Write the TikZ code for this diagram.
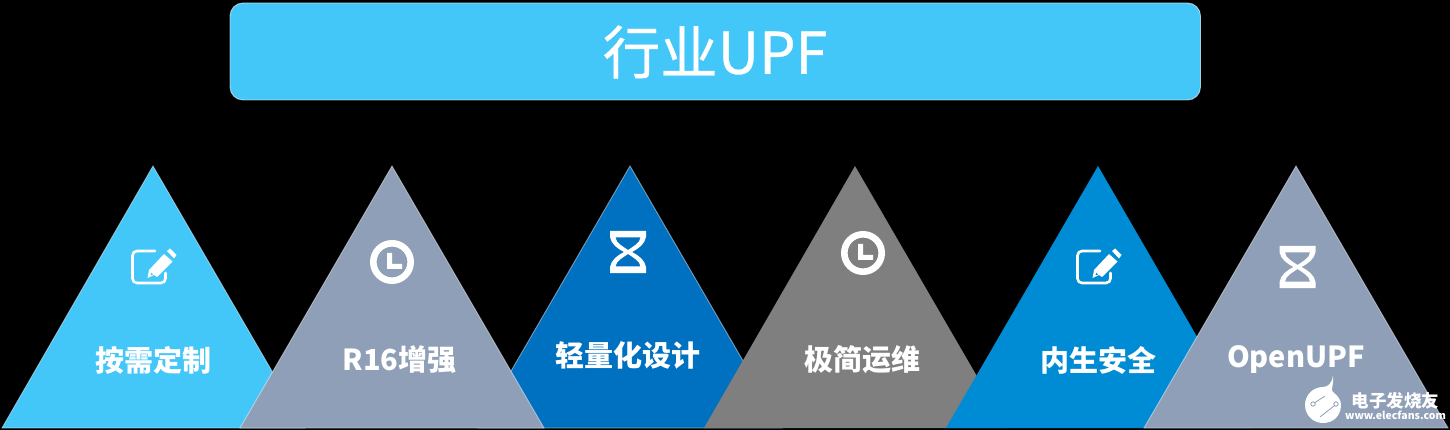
\documentclass[tikz,border=0pt]{standalone}
\usepackage{fontspec}
\usepackage{tikz}
\setmainfont{Noto Sans CJK SC}
\definecolor{skyblue}{HTML}{43C6F8}
\definecolor{slateblue}{HTML}{8F9FB7}
\definecolor{deepblue}{HTML}{0070C0}
\definecolor{midblue}{HTML}{008BD5}
\definecolor{midgrey}{HTML}{7F7F7F}
\tikzset{
    tri/.style={draw=white,draw opacity=.45,line width=.9pt,fill=#1},
    flat/.style={draw=none,fill=#1},
    tag/.style={text=white,font=\fontsize{29}{29}\selectfont\bfseries,inner sep=0pt},
    pics/noteicon/.style={code={
        \draw[white,line width=2.6pt,line cap=round,rounded corners=4.5pt]
            (6,-16) -- (-16.5,-16) -- (-16.5,16) -- (16.5,16) -- (16.5,6);
        \fill[white,even odd rule] (-1.5,11) -- (0,3) -- (15,-13) -- (23.5,-5.5) -- (8,10) -- (5,8) -- cycle
            (1.5,8.5) -- (2,5.5) -- (4.5,7.5) -- cycle;
        \fill[white] (18,-16) -- (21,-18.5) -- (27.5,-12) -- (25,-8.5) -- cycle;
    }},
    pics/clockicon/.style={code={
        \draw[white,line width=6.6pt] (0,0) circle[radius=18.7];
        \fill[white] (-5,-9) rectangle (0,7) (-5,2) rectangle (10,7);
    }},
    pics/glassicon/.style={code={
        \fill[white,even odd rule] (-18,-21) -- (18,-21) -- (18,-15) .. controls (17,-8) and (10,-3) .. (4,0)
            .. controls (10,3) and (17,8) .. (18,15) -- (18,21) -- (-18,21) -- (-18,15)
            .. controls (-17,8) and (-10,3) .. (-4,0) .. controls (-10,-3) and (-17,-8) .. (-18,-15) -- cycle
            (-12.5,-14.5) .. controls (-12,-9) and (-5,-5.5) .. (0,-2) .. controls (5,-5.5) and (12,-9) .. (12.5,-14.5) -- cycle
            (-12.5,14.5) .. controls (-12,9) and (-5,5.5) .. (0,2) .. controls (5,5.5) and (12,9) .. (12.5,14.5) -- cycle;
    }},
}
\begin{document}
\begin{tikzpicture}[x=1pt,y=-1pt]
    \useasboundingbox (0,0) rectangle (1450,430);
    \fill[black] (0,0) rectangle (1450,430);
    % title bar
    \draw[fill=skyblue,draw=white,draw opacity=.6,line width=.9pt,rounded corners=13pt] (230,3) rectangle (1200.5,100);
    \node[text=white,font=\fontsize{57.5}{57.5}\selectfont\addfontfeatures{FakeBold=0.5},inner sep=0pt] (title) at (715,52) {行业UPF};
    % triangles, left to right except the third
    \draw[tri=skyblue] (153,166) -- (305,428) -- (2,428) -- cycle;
    \draw[tri=deepblue] (630,166) -- (782,428) -- (478,428) -- cycle;
    \draw[tri=slateblue] (392,166) -- (544,428) -- (240,428) -- cycle;
    \draw[flat=midgrey] (855,166) -- (1007,428) -- (704,428) -- cycle;
    \draw[flat=midblue] (1098,166) -- (1250,428) -- (946,428) -- cycle;
    \draw[tri=slateblue] (1296,166) -- (1448,428) -- (1144,428) -- cycle;
    % icons
    \pic at (149,267) {noteicon};
    \pic at (392,262) {clockicon};
    \pic at (628,252) {glassicon};
    \pic at (863,253) {clockicon};
    \pic at (1094,267) {noteicon};
    \pic at (1297.5,267) {glassicon};
    % labels
    \node[tag] (custom) at (153,360) {按需定制};
    \node[tag] (rel16) at (399.5,360) {R16增强};
    \node[tag] (light) at (627.5,355) {轻量化设计};
    \node[tag] (ops) at (862.5,360) {极简运维};
    \node[tag] (safe) at (1098.5,360) {内生安全};
    \node[tag] (open) at (1296,360) {OpenUPF};
    % site mark
    \fill[white] (1333,376) .. controls (1334,386) and (1330,390) .. (1333,392)
        .. controls (1338,396) and (1341,400) .. (1341,405) .. controls (1341,416) and (1333,423) .. (1323,423)
        .. controls (1313,423) and (1305,415) .. (1305,405) .. controls (1305,395) and (1313,387) .. (1323,387)
        .. controls (1328,387) and (1332,383) .. (1333,376) -- cycle;
    \draw[slateblue,line width=.8pt] (1313,404) circle[radius=2.2] (1336,404) circle[radius=2.2]
        (1315,402.5) -- (1325,396) (1334,406) -- (1320,417);
    \node[text=white,font=\fontsize{17.5}{17.5}\selectfont\bfseries,inner sep=0pt] (brand) at (1395.5,401) {电子发烧友};
    \node[text=white,font=\fontsize{10.5}{10.5}\selectfont\bfseries,inner sep=0pt] (site) at (1395.5,415) {www.elecfans.com};
\end{tikzpicture}
\end{document}
